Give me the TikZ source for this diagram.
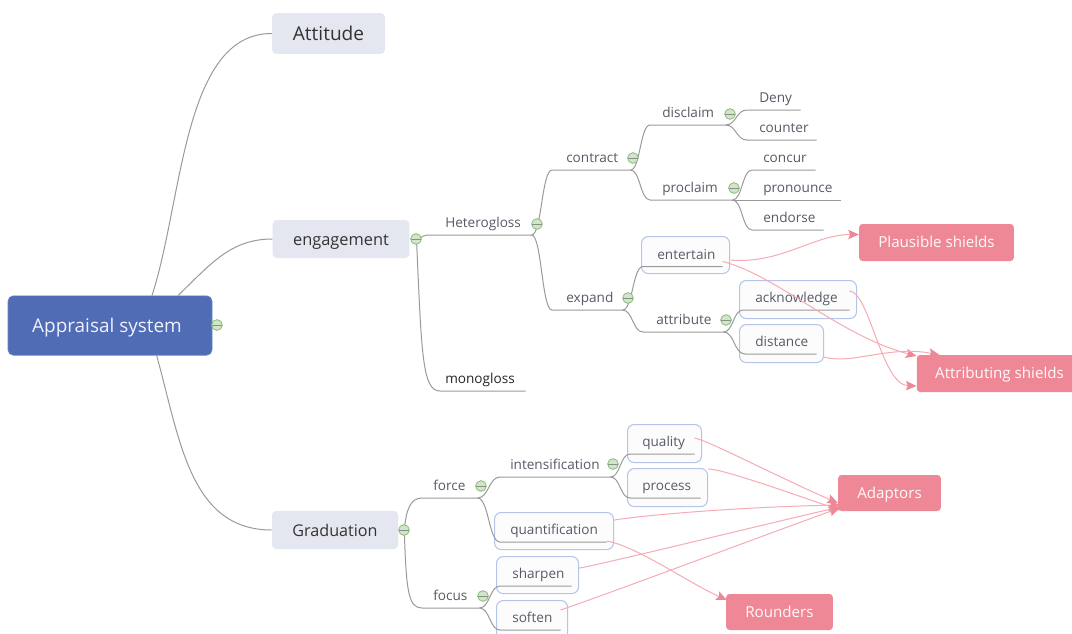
\documentclass[tikz,border=0pt]{standalone}
\usepackage{fontspec}
\setmainfont{Open Sans}
\usetikzlibrary{calc,arrows.meta}
\definecolor{linegrey}{HTML}{9A9A9A}
\definecolor{txtgrey}{HTML}{565B66}
\definecolor{topfill}{HTML}{E4E7EF}
\definecolor{rootfill}{HTML}{4F6CB5}
\definecolor{boxline}{HTML}{B5C5E8}
\definecolor{boxfill}{HTML}{FCFCFD}
\definecolor{pinkfill}{HTML}{EF8896}
\definecolor{pinkline}{HTML}{F6ABB5}
\definecolor{togfill}{HTML}{D3E3CC}
\definecolor{togline}{HTML}{84BF6E}
\tikzset{
  x=.75pt,y=-.75pt,
  rootnode/.style={fill=rootfill,draw=rootfill!85!white,line width=.5pt,rounded corners=4pt,text=white!94!blue,font=\fontsize{14.2}{18}\selectfont,inner sep=0pt,text height=14pt,text depth=2.8pt},
  topnode/.style={fill=topfill,rounded corners=3pt,text=black!80,inner sep=0pt},
  pinknode/.style={fill=pinkfill,rounded corners=2.5pt,text=white!92!pink,font=\fontsize{11.35}{13}\selectfont,inner sep=0pt,text height=10.4pt,text depth=2.2pt},
  tpnode/.style={inner sep=0pt,anchor=south west,text height=10pt,text depth=5.3pt,text=txtgrey,font=\fontsize{10.2}{12}\selectfont},
  framebox/.style={draw=boxline,fill=boxfill,line width=.8pt,rounded corners=5pt,inner sep=0pt,anchor=north west},
  conn/.style={draw=linegrey,line width=.75pt},
  rel/.style={draw=pinkline,line width=.75pt,-{Stealth[length=8pt,width=7pt,color=pinkfill,inset=1.5pt]}},
  toggle/.style={circle,draw=togline,fill=togfill,line width=.6pt,minimum size=8pt,inner sep=0pt,
    path picture={\draw[black!45,line width=.5pt] (path picture bounding box.west) -- (path picture bounding box.east);}},
}
% \tp[opts]{name}{xL}{xR}{y}{textx}{text}: text sitting on an underline
\newcommand\tp[7][]{%
  \pgfmathsetlengthmacro\tpw{(#4-#3)*.75pt}%
  \pgfmathsetlengthmacro\tph{(#6-#3)*.75pt}%
  \node[tpnode,#1] (#2) at (#3,#5) {\makebox[\tpw][l]{\hspace*{\tph}#7}};}
% \fb{name}{x1}{y1}{x2}{y2}: frame round a topic
\newcommand\fb[5]{%
  \pgfmathsetlengthmacro\tpw{(#4-#2)*.75pt}%
  \pgfmathsetlengthmacro\tph{(#5-#3)*.75pt}%
  \node[framebox,minimum width=\tpw,minimum height=\tph] (#1) at (#2,#3) {};}
% \br{parent}{child}: S-curve from the end of parent's underline, then along child's underline
\newcommand\br[2]{%
  \draw[conn] (#1.south east) .. controls ($(#1.south east)!.5!(#1.south east -| #2.south west)$) and ($(#2.south west)!.5!(#2.south west -| #1.south east)$) .. (#2.south west) -- (#2.south east);}
\newcommand\ul[1]{\draw[conn] (#1.south west) -- (#1.south east);}
\begin{document}
\begin{tikzpicture}
\clip (0,0) rectangle (1072,633);
\fill[white] (0,0) rectangle (1072,633);

% frames
\fb{entertainbox}{641}{236}{729}{273}
\fb{acknowledgebox}{739}{280}{856}{318}
\fb{distancebox}{739}{324}{823}{362}
\fb{qualitybox}{627}{424}{701}{462}
\fb{processbox}{627}{468}{707}{506}
\fb{quantificationbox}{494}{512}{613}{549}
\fb{sharpenbox}{496}{556}{578}{593}
\fb{softenbox}{496}{600}{567}{645}

% main nodes
\node[rootnode,minimum width=153pt,minimum height=44.5pt] (root) at (110,325.5) {Appraisal system\hspace*{4.5pt}};
\node[topnode,minimum width=84.5pt,minimum height=30.5pt,font=\fontsize{14.3}{16}\selectfont,text height=12pt,text depth=2.2pt] (attitude) at (328.5,33.5) {Attitude};
\node[topnode,minimum width=102.5pt,minimum height=28.5pt,font=\fontsize{12.3}{14}\selectfont,text height=11pt,text depth=2pt] (engagement) at (341,239) {engagement};
\node[topnode,minimum width=94.5pt,minimum height=28.5pt,font=\fontsize{12.1}{14}\selectfont,text height=11pt,text depth=2pt] (graduation) at (335,530) {Graduation};

% pink nodes
\node[pinknode,minimum width=116pt,minimum height=27.75pt] (plausible) at (936.5,242.5) {Plausible shields};
\node[pinknode,minimum width=124pt,minimum height=27.75pt] (attributing) at (999.5,373.5) {Attributing shields};
\node[pinknode,minimum width=77pt,minimum height=27pt] (adaptors) at (889.5,493) {Adaptors};
\node[pinknode,minimum width=80pt,minimum height=27pt] (rounders) at (779.5,612) {Rounders};

% underlined topics
\tp{heterogloss}{432}{531}{235}{445}{Heterogloss}
\tp[text=black!85]{monogloss}{440}{525}{391}{445}{monogloss}
\tp{contract}{552}{630}{170}{566}{contract}
\tp{expand}{552}{622}{310}{566}{expand}
\tp{disclaim}{650}{725}{125}{662}{disclaim}
\tp{proclaim}{650}{732}{200}{662}{proclaim}
\tp{deny}{747}{800}{110}{759}{Deny}
\tp{counter}{747}{816}{140}{759}{counter}
\tp{concur}{752}{815}{170}{763}{concur}
\tp{pronounce}{732}{840}{200}{763}{pronounce}
\tp{endorse}{752}{823}{230}{763}{endorse}
\tp{entertain}{643}{722}{266.5}{657}{entertain}
\tp{attribute}{643}{723}{332}{656}{attribute}
\tp{acknowledge}{743}{849}{310}{755}{acknowledge}
\tp{distance}{745}{816}{354}{755}{distance}
\tp{force}{422}{477}{498}{433}{force}
\tp{focus}{422}{479}{608}{433}{focus}
\tp{intensification}{500}{610}{477}{510}{intensification}
\tp{quantification}{500}{606}{542}{510}{quantification}
\tp{quality}{630}{694}{454}{642}{quality}
\tp{process}{630}{700}{498}{642}{process}
\tp{sharpen}{500}{571}{586}{512}{sharpen}
\tp{soften}{500}{560}{630}{512}{soften}

% tree connectors
\draw[conn] ([shift={(42,0)}]root.north) .. controls (183,200) and (183,33) .. (attitude.west);
\draw[conn] ([shift={(68,0)}]root.north) .. controls (210,265) and (230,239) .. (engagement.west);
\draw[conn] ([shift={(149,0)}]root.south west) .. controls (180,440) and (190,530) .. (graduation.west);

\draw[conn] ([shift={(8,1)}]engagement.east) .. controls +(6,-4) and +(-10,0) .. (heterogloss.south west) -- (heterogloss.south east);
\draw[conn] ([shift={(7,3)}]engagement.east) .. controls +(5,110) and +(-18,0) .. (monogloss.south west) -- (monogloss.south east);
\br{heterogloss}{contract}
\br{heterogloss}{expand}
\br{contract}{disclaim}
\br{contract}{proclaim}
\br{disclaim}{deny}
\br{disclaim}{counter}
\br{proclaim}{concur}
\ul{pronounce}
\br{proclaim}{endorse}
\br{expand}{entertain}
\br{expand}{attribute}
\br{attribute}{acknowledge}
\br{attribute}{distance}
\draw[conn] ([shift={(6,0)}]graduation.east) .. controls +(2,-20) and +(-12,0) .. (force.south west) -- (force.south east);
\draw[conn] ([shift={(6,0)}]graduation.east) .. controls +(2,60) and +(-14,0) .. (focus.south west) -- (focus.south east);
\br{force}{intensification}
\br{force}{quantification}
\br{intensification}{quality}
\br{intensification}{process}
\br{focus}{sharpen}
\br{focus}{soften}

% relationship arrows
\draw[rel] ([shift={(1,-14)}]entertainbox.south east) .. controls +(50,4) and +(-45,0) .. ([shift={(0,-8)}]plausible.west);
\draw[rel] ([shift={(0,-5)}]entertain.south east) .. controls +(53,13) and +(-77,-20) .. ([shift={(0,-17.5)}]attributing.west);
\draw[rel] ([shift={(0,-19)}]acknowledge.south east) .. controls +(20,1) and +(-35,-1) .. ([shift={(0,12.5)}]attributing.west);
\draw[rel] ([shift={(0,-6)}]distancebox.south east) .. controls +(27,8) and +(-50,-10) .. ([shift={(23,-18.5)}]attributing.west);
\draw[rel] ([shift={(0,-16)}]quality.south east) .. controls +(15,3) and +(-60,-26) .. ([shift={(0,10)}]adaptors.west);
\draw[rel] ([shift={(0,1)}]processbox.north east) .. controls +(15,0) and +(-50,-17) .. ([shift={(2,17)}]adaptors.west);
\draw[rel] ([shift={(0,-30)}]quantificationbox.south east) .. controls +(30,-5) and +(-100,2) .. ([shift={(2,12)}]adaptors.west);
\draw[rel] ([shift={(0,-26)}]sharpenbox.south east) .. controls +(20,-3) and +(-70,16) .. ([shift={(2,14)}]adaptors.west);
\draw[rel] ([shift={(0,-20)}]soften.south east) .. controls +(50,-17) and +(-70,25) .. ([shift={(2,15)}]adaptors.west);
\draw[rel] ([shift={(0,-1)}]quantification.south east) .. controls +(30,5) and +(-40,-18) .. ([shift={(1,-12)}]rounders.west);

% collapse toggles
\node[toggle] (t1) at (217,325) {};
\node[toggle] (t2) at (416,239) {};
\node[toggle] (t3) at (537,224) {};
\node[toggle] (t4) at (633,158) {};
\node[toggle] (t5) at (730,114) {};
\node[toggle] (t6) at (734,188) {};
\node[toggle] (t7) at (628,298) {};
\node[toggle] (t8) at (726,320) {};
\node[toggle] (t9) at (404,530) {};
\node[toggle] (t10) at (481,486) {};
\node[toggle] (t11) at (613,464) {};
\node[toggle] (t12) at (483,596) {};
\end{tikzpicture}
\end{document}
